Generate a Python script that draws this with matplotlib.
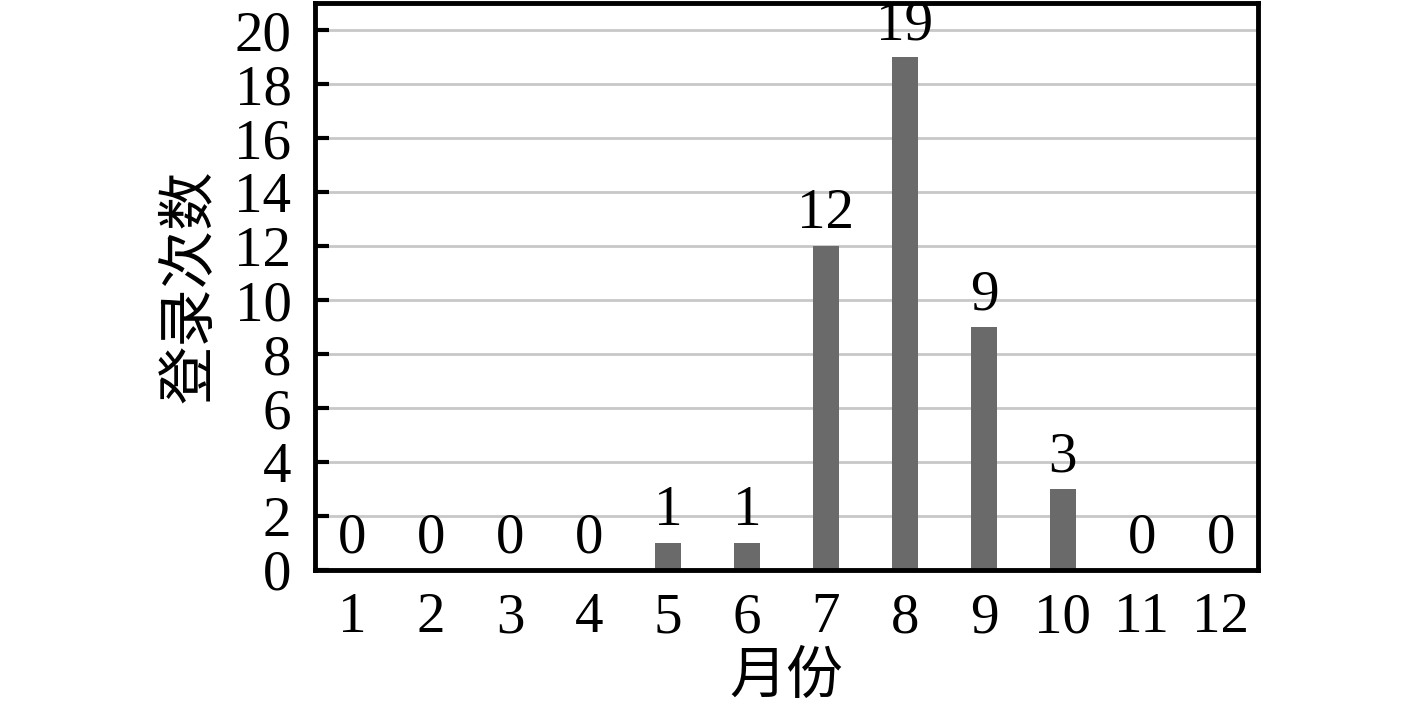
import matplotlib
matplotlib.use("Agg")
import matplotlib.pyplot as plt
import numpy as np

months = ["1", "2", "3", "4", "5", "6", "7", "8", "9", "10", "11", "12"]
counts = [0, 0, 0, 0, 1, 1, 12, 19, 9, 3, 0, 0]
yticks = [0, 2, 4, 6, 8, 10, 12, 14, 16, 18, 20]

serif = ["Liberation Serif", "DejaVu Serif"]
cjk = ["Noto Sans CJK SC", "DejaVu Sans"]

fig = plt.figure(figsize=(14.17, 7.05), dpi=100)
ax = fig.add_axes([0.2223, 0.1915, 0.8878 - 0.2223, 0.9957 - 0.1915])

x = np.arange(len(months))
ax.set_axisbelow(True)
ax.yaxis.grid(True, color="#c8c8c8", linewidth=2)
ax.bar(x, counts, width=0.32, color="#6a6a6a", zorder=2)

for xi, v in zip(x, counts):
    ax.annotate(str(v), (xi, v), xytext=(0, 4), textcoords="offset points",
                ha="center", va="bottom", fontsize=41, family=serif)

ax.set_xlim(-0.47, len(months) - 0.53)
ax.set_ylim(0, 21)
ax.set_xticks(x)
ax.set_xticklabels(months, family=serif, fontsize=41)
ax.set_yticks(yticks)
ax.set_yticklabels([str(t) for t in yticks], family=serif, fontsize=41)
ax.tick_params(axis="x", length=0, pad=16)
ax.tick_params(axis="y", direction="in", length=10, width=3, pad=17)
for s in ax.spines.values():
    s.set_linewidth(3.5)
    s.set_color("black")

ax.set_xlabel("月份", family=cjk, fontsize=41, labelpad=2)
ax.set_ylabel("登录次数", family=cjk, fontsize=42, labelpad=10)

fig.savefig("out.png", dpi=100)
